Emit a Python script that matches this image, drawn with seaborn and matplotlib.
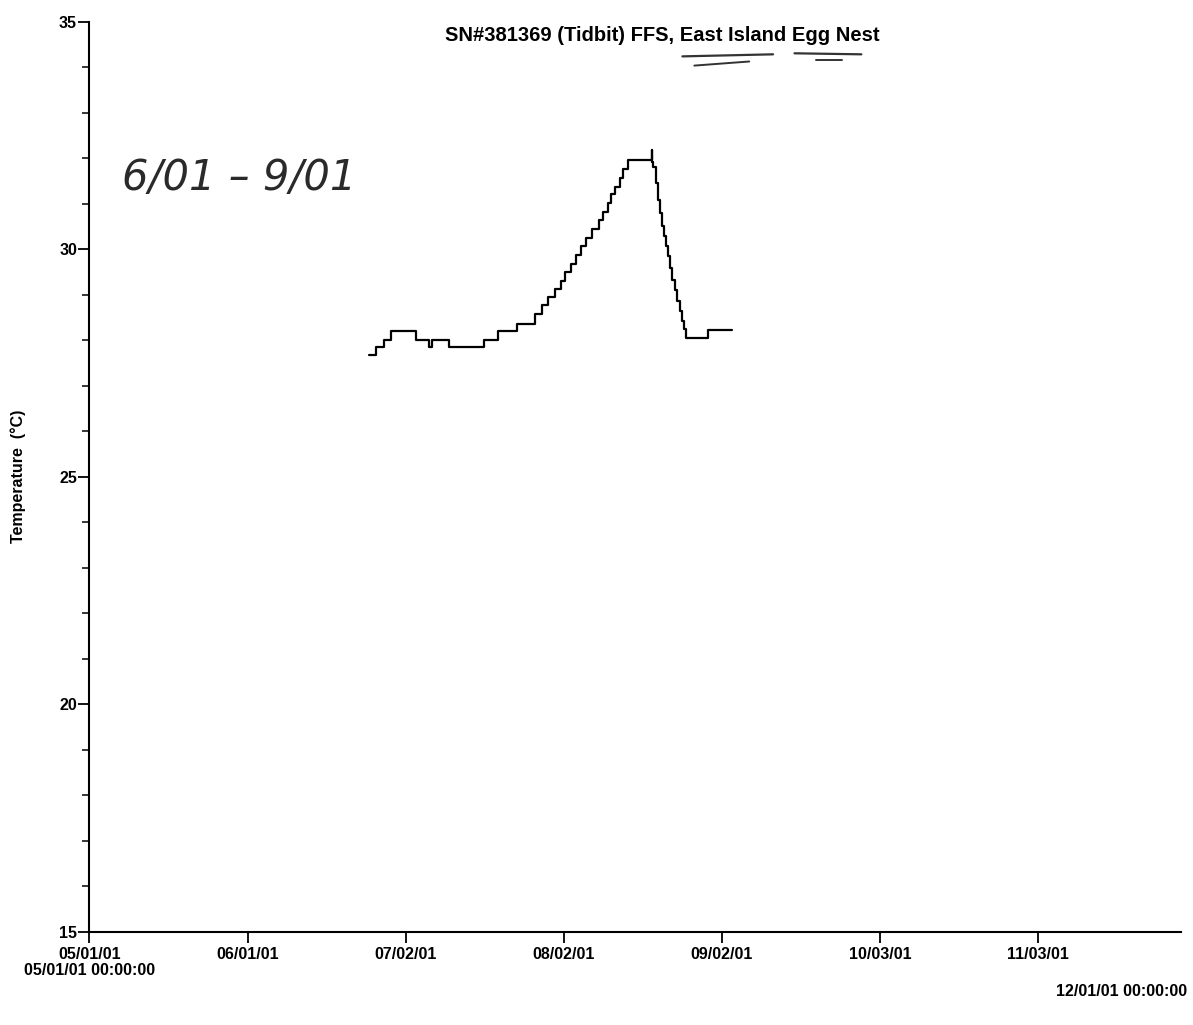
import pandas as pd
import numpy as np
import seaborn as sns
import matplotlib.pyplot as plt
from matplotlib.lines import Line2D

# logger readings (time, temperature in deg C)
times = [
    "2001-06-24 17:00", "2001-06-26 05:00", "2001-06-27 19:00", "2001-06-29 02:00",
    "2001-07-04 00:00", "2001-07-06 12:00", "2001-07-07 02:00", "2001-07-10 12:00",
    "2001-07-17 07:00", "2001-07-20 02:00", "2001-07-23 19:00", "2001-07-27 07:00",
    "2001-07-28 17:00", "2001-07-29 22:00", "2001-07-31 05:00", "2001-08-01 10:00",
    "2001-08-02 07:00", "2001-08-03 10:00", "2001-08-04 07:00", "2001-08-05 10:00",
    "2001-08-06 07:00", "2001-08-07 14:00", "2001-08-08 19:00", "2001-08-09 17:00",
    "2001-08-10 14:00", "2001-08-11 05:00", "2001-08-12 02:00", "2001-08-12 22:00",
    "2001-08-13 12:00", "2001-08-14 12:00", "2001-08-19 06:00", "2001-08-19 09:00",
    "2001-08-19 13:00", "2001-08-20 02:00", "2001-08-20 13:00", "2001-08-20 22:00",
    "2001-08-21 05:00", "2001-08-21 14:00", "2001-08-22 00:00", "2001-08-22 10:00",
    "2001-08-22 19:00", "2001-08-23 05:00", "2001-08-23 17:00", "2001-08-24 05:00",
    "2001-08-24 17:00", "2001-08-25 02:00", "2001-08-25 12:00", "2001-08-25 22:00",
    "2001-08-30 07:00", "2001-09-04 00:00",
]
temps = [
    27.67, 27.84, 28.01, 28.19,
    28.01, 27.84, 28.01, 27.84,
    28.01, 28.19, 28.36, 28.58,
    28.77, 28.94, 29.12, 29.30,
    29.49, 29.68, 29.87, 30.07,
    30.25, 30.45, 30.64, 30.82,
    31.01, 31.20, 31.37, 31.56,
    31.76, 31.95, 32.18, 31.92,
    31.81, 31.45, 31.08, 30.79,
    30.50, 30.28, 30.06, 29.84,
    29.59, 29.33, 29.11, 28.86,
    28.64, 28.42, 28.24, 28.04,
    28.22, 28.22,
]

tick_dates = ["2001-05-01", "2001-06-01", "2001-07-02", "2001-08-02",
              "2001-09-02", "2001-10-03", "2001-11-03"]
tick_labels = ["05/01/01\n05/01/01 00:00:00", "06/01/01", "07/02/01", "08/02/01",
               "09/02/01", "10/03/01", "11/03/01"]
x_start, x_end = "2001-05-01", "2001-12-01"
end_label = "12/01/01 00:00:00"

title = "SN#381369 (Tidbit) FFS, East Island Egg Nest"
ylabel = "Temperature  (\u00b0C)"
note = "6/01 \u2013 9/01"

df = pd.DataFrame({"time": pd.to_datetime(times), "temp": temps})

sns.set_theme(style="ticks")
plt.rcParams["font.family"] = ["Liberation Sans", "DejaVu Sans"]
plt.rcParams.update({"text.color": "black", "axes.labelcolor": "black",
                     "xtick.color": "black", "ytick.color": "black"})

fig = plt.figure(figsize=(11.93, 10.25), dpi=100)
ax = fig.add_axes([0.075, 0.091, 0.915, 0.888])

sns.lineplot(data=df, x="time", y="temp", ax=ax, color="black", linewidth=1.6,
             drawstyle="steps-post", estimator=None)

ax.set_xlim(pd.Timestamp(x_start), pd.Timestamp(x_end))
ax.set_ylim(15, 35)
ax.set_xticks(pd.to_datetime(tick_dates))
ax.set_xticklabels(tick_labels, fontsize=11.5, fontweight="bold", linespacing=1.05)
ax.set_yticks([15, 20, 25, 30, 35])
ax.set_yticks(np.arange(15, 36, 1), minor=True)
ax.tick_params(axis="y", labelsize=11.5, length=8, width=1.3, pad=1)
ax.tick_params(axis="y", which="minor", length=5, width=1.1)
ax.tick_params(axis="x", length=8, width=1.3, pad=3)
for lab in ax.get_yticklabels():
    lab.set_fontweight("bold")

ax.set_xlabel("")
ax.set_ylabel(ylabel, fontsize=11.5, fontweight="bold", labelpad=24)
sns.despine(ax=ax)
for s in ("left", "bottom"):
    ax.spines[s].set_linewidth(1.5)
    ax.spines[s].set_color("black")

ax.annotate(end_label, xy=(1.0, 0), xycoords="figure fraction",
            xytext=(-4, 24), textcoords="offset points", ha="right", va="center",
            fontsize=11.5, fontweight="bold")

fig.text(0.555, 0.965, title, ha="center", va="center", fontsize=14.5, fontweight="bold")

# handwritten notes on the printout
fig.text(0.102, 0.815, note, fontsize=30, fontstyle="italic", color="#2a2a2a",
         family=["DejaVu Sans"], fontweight="light")
fig.add_artist(Line2D([0.572, 0.648], [0.945, 0.947], color="#333333", lw=1.6))
fig.add_artist(Line2D([0.582, 0.628], [0.936, 0.940], color="#333333", lw=1.4))
fig.add_artist(Line2D([0.666, 0.722], [0.948, 0.947], color="#333333", lw=1.6))
fig.add_artist(Line2D([0.684, 0.706], [0.941, 0.941], color="#333333", lw=1.4))

plt.savefig("out.png", dpi=100)
plt.close()
